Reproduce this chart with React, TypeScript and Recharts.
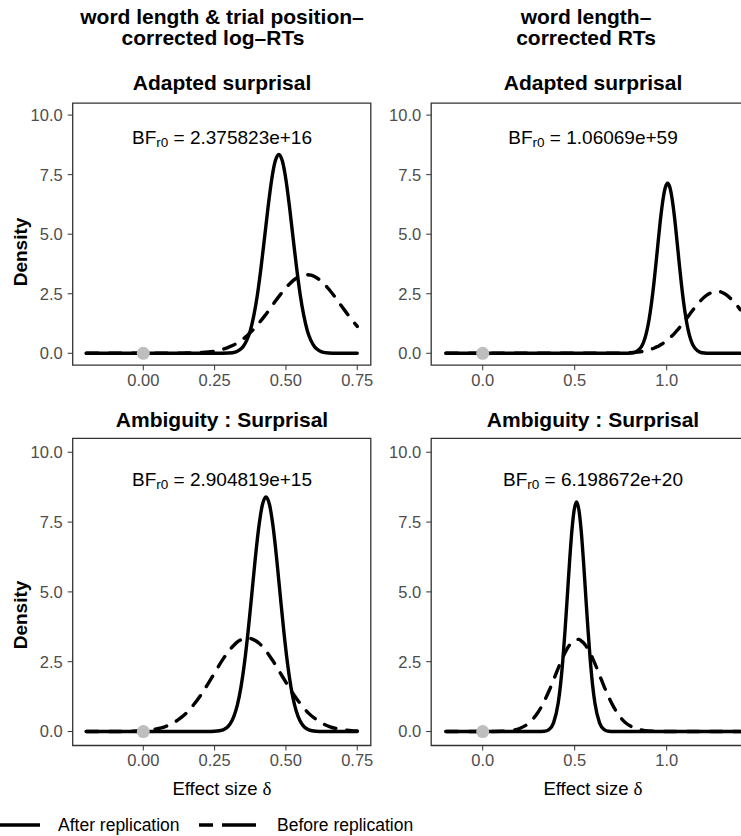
import { ComposedChart, Line, Scatter, XAxis, YAxis, ReferenceArea } from 'recharts';

// densities, one grid of effect sizes per panel
const adaptedLogX = [-0.2, -0.1, 0, 0.05, 0.1, 0.15, 0.2, 0.25, 0.3, 0.325, 0.3375, 0.35, 0.3625, 0.375, 0.3875, 0.4, 0.4125, 0.425, 0.4375, 0.45, 0.4625, 0.475, 0.4875, 0.5, 0.5125, 0.525, 0.5375, 0.55, 0.5625, 0.575, 0.5875, 0.6, 0.6125, 0.625, 0.65, 0.675, 0.7, 0.725, 0.75];
const adaptedLogAfter = [0, 0, 0, 0, 0, 0, 0, 0, 0.01, 0.06, 0.14, 0.28, 0.54, 0.95, 1.59, 2.46, 3.58, 4.85, 6.15, 7.29, 8.07, 8.35, 8.07, 7.29, 6.15, 4.85, 3.58, 2.46, 1.59, 0.95, 0.54, 0.28, 0.14, 0.06, 0.01, 0, 0, 0, 0];
const adaptedLogBefore = [0, 0, 0, 0, 0, 0.01, 0.03, 0.09, 0.26, 0.4, 0.5, 0.6, 0.73, 0.87, 1.02, 1.19, 1.37, 1.56, 1.76, 1.97, 2.18, 2.38, 2.57, 2.75, 2.91, 3.05, 3.16, 3.24, 3.29, 3.3, 3.28, 3.22, 3.13, 3.01, 2.7, 2.31, 1.9, 1.5, 1.13];

const adaptedRawX = [-0.2, 0, 0.2, 0.4, 0.6, 0.7, 0.75, 0.78, 0.805, 0.83, 0.8425, 0.855, 0.8675, 0.88, 0.8925, 0.905, 0.9175, 0.93, 0.9425, 0.955, 0.9675, 0.98, 0.9925, 1.005, 1.0175, 1.03, 1.0425, 1.055, 1.0675, 1.08, 1.0925, 1.105, 1.1175, 1.13, 1.1425, 1.155, 1.18, 1.205, 1.23, 1.255, 1.28, 1.305, 1.33, 1.355, 1.38, 1.4];
const adaptedRawAfter = [0, 0, 0, 0, 0, 0, 0, 0, 0.01, 0.05, 0.11, 0.2, 0.35, 0.59, 0.95, 1.45, 2.11, 2.91, 3.83, 4.79, 5.71, 6.46, 6.96, 7.14, 6.96, 6.46, 5.71, 4.79, 3.83, 2.91, 2.11, 1.45, 0.95, 0.59, 0.35, 0.2, 0.05, 0.01, 0, 0, 0, 0, 0, 0, 0, 0];
const adaptedRawBefore = [0, 0, 0, 0, 0, 0, 0.01, 0.02, 0.03, 0.04, 0.05, 0.06, 0.08, 0.1, 0.12, 0.15, 0.18, 0.21, 0.26, 0.3, 0.36, 0.42, 0.49, 0.57, 0.65, 0.74, 0.84, 0.95, 1.06, 1.18, 1.31, 1.43, 1.56, 1.69, 1.82, 1.94, 2.17, 2.36, 2.5, 2.58, 2.6, 2.54, 2.42, 2.24, 2.03, 1.83];

const ambigLogX = [-0.2, -0.1, -0.05, 0, 0.025, 0.05, 0.075, 0.1, 0.125, 0.15, 0.175, 0.2, 0.225, 0.25, 0.28, 0.305, 0.3175, 0.33, 0.3425, 0.355, 0.3675, 0.38, 0.3925, 0.405, 0.4175, 0.43, 0.4425, 0.455, 0.4675, 0.48, 0.4925, 0.505, 0.5175, 0.53, 0.5425, 0.555, 0.58, 0.605, 0.63, 0.655, 0.68, 0.705, 0.73, 0.75];
const ambigLogAfter = [0, 0, 0, 0, 0, 0, 0, 0, 0, 0, 0, 0, 0, 0.01, 0.06, 0.28, 0.54, 0.96, 1.6, 2.48, 3.6, 4.88, 6.19, 7.33, 8.12, 8.4, 8.12, 7.33, 6.19, 4.88, 3.6, 2.48, 1.6, 0.96, 0.54, 0.28, 0.06, 0.01, 0, 0, 0, 0, 0, 0];
const ambigLogBefore = [0, 0, 0.01, 0.03, 0.06, 0.1, 0.17, 0.28, 0.44, 0.65, 0.94, 1.28, 1.68, 2.1, 2.6, 2.95, 3.09, 3.21, 3.29, 3.34, 3.35, 3.32, 3.26, 3.17, 3.04, 2.89, 2.71, 2.52, 2.31, 2.1, 1.89, 1.68, 1.47, 1.28, 1.1, 0.94, 0.65, 0.44, 0.28, 0.17, 0.1, 0.06, 0.03, 0.02];

const ambigRawX = [-0.2, 0, 0.1, 0.15, 0.2, 0.25, 0.3, 0.335, 0.36, 0.385, 0.41, 0.4225, 0.435, 0.4475, 0.46, 0.4725, 0.485, 0.4975, 0.51, 0.5225, 0.535, 0.5475, 0.56, 0.5725, 0.585, 0.5975, 0.61, 0.635, 0.66, 0.685, 0.71, 0.735, 0.76, 0.785, 0.81, 0.86, 0.9, 1.0, 1.2, 1.4];
const ambigRawAfter = [0, 0, 0, 0, 0, 0, 0, 0.01, 0.07, 0.31, 1.01, 1.65, 2.52, 3.62, 4.86, 6.12, 7.21, 7.95, 8.22, 7.95, 7.21, 6.12, 4.86, 3.62, 2.52, 1.65, 1.01, 0.31, 0.07, 0.01, 0, 0, 0, 0, 0, 0, 0, 0, 0, 0];
const ambigRawBefore = [0, 0, 0.01, 0.03, 0.11, 0.3, 0.68, 1.09, 1.45, 1.85, 2.26, 2.46, 2.65, 2.82, 2.98, 3.1, 3.2, 3.27, 3.3, 3.3, 3.25, 3.18, 3.08, 2.95, 2.79, 2.62, 2.43, 2.02, 1.61, 1.23, 0.9, 0.63, 0.42, 0.27, 0.17, 0.06, 0.02, 0, 0, 0];

const logTicks = [0, 0.25, 0.5, 0.75];
const rawTicks = [0, 0.5, 1.0];
const densityTicks = [0, 2.5, 5, 7.5, 10];
const priorPoint = [{ x: 0, y: 0 }];

const columnTitles = [['word length & trial position–', 'corrected log–RTs'], ['word length–', 'corrected RTs']];
const rowTitles = ['Adapted surprisal', 'Ambiguity : Surprisal'];
const bayesFactors = [['2.375823e+16', '1.06069e+59'], ['2.904819e+15', '6.198672e+20']];

const FONT = '"Liberation Sans", Arial, Helvetica, sans-serif';
const INK = '#333333';

interface PanelProps {
  xs: number[];
  after: number[];
  before: number[];
  xDomain: [number, number];
  xTicks: number[];
  digits: number;
  left: number;
  top: number;
  height: number;
  yAxisWidth: number;
  marginRight: number;
  marginTop: number;
  marginBottom: number;
}

const DensityPanel = (p: PanelProps) => {
  const rows = p.xs.map((x, i) => ({ x, after: p.after[i], before: p.before[i] }));
  return (
    <div style={{ position: 'absolute', left: p.left, top: p.top }}>
      <ComposedChart
        width={380}
        height={p.height}
        data={rows}
        margin={{ top: p.marginTop, right: p.marginRight, bottom: p.marginBottom, left: 0 }}
      >
        <XAxis
          type="number"
          dataKey="x"
          domain={p.xDomain}
          ticks={p.xTicks}
          allowDataOverflow
          height={30}
          axisLine={false}
          tickSize={5}
          tickMargin={4}
          tickLine={{ stroke: INK }}
          tick={{ fill: '#4D4D4D', fontSize: 16.5 }}
          tickFormatter={(v: number) => v.toFixed(p.digits)}
        />
        <YAxis
          type="number"
          domain={[-0.5, 10.5]}
          ticks={densityTicks}
          allowDataOverflow
          width={p.yAxisWidth}
          axisLine={false}
          tickSize={5}
          tickMargin={5}
          tickLine={{ stroke: INK }}
          tick={{ fill: '#4D4D4D', fontSize: 16.5 }}
          tickFormatter={(v: number) => v.toFixed(1)}
        />
        <ReferenceArea
          x1={p.xDomain[0]}
          x2={p.xDomain[1]}
          y1={-0.5}
          y2={10.5}
          fill="none"
          stroke={INK}
          strokeWidth={1.3}
        />
        <Line
          type="monotone"
          dataKey="before"
          stroke="#000"
          strokeWidth={3.4}
          strokeDasharray="12 11"
          strokeLinecap="round"
          dot={false}
          isAnimationActive={false}
        />
        <Line
          type="monotone"
          dataKey="after"
          stroke="#000"
          strokeWidth={3.4}
          strokeLinecap="round"
          strokeLinejoin="round"
          dot={false}
          isAnimationActive={false}
        />
        <Scatter
          data={priorPoint}
          dataKey="y"
          isAnimationActive={false}
          shape={(s: any) => <circle cx={s.cx} cy={s.cy} r={6.5} fill="#BEBEBE" />}
        />
      </ComposedChart>
    </div>
  );
};

const BFText = ({ x, y, value }: { x: number; y: number; value: string }) => (
  <text x={x} y={y} textAnchor="middle" dominantBaseline="central" fontSize={19} fill="#000">
    <tspan>BF</tspan>
    <tspan fontSize={13.5} dy={5}>r0</tspan>
    <tspan dy={-5}> = {value}</tspan>
  </text>
);

export default function App() {
  const colX = [222, 593];
  const titleX = [[222, 213], [586, 586]];
  return (
    <div
      style={{
        position: 'absolute',
        left: 0,
        top: 0,
        width: 741,
        height: 836,
        overflow: 'hidden',
        background: '#fff',
        fontFamily: FONT,
      }}
    >
      <DensityPanel
        xs={adaptedLogX} after={adaptedLogAfter} before={adaptedLogBefore}
        xDomain={[-0.2475, 0.7975]} xTicks={logTicks} digits={2}
        left={0} top={100} height={300} yAxisWidth={72.7} marginRight={9.2} marginTop={3.2} marginBottom={4.8}
      />
      <DensityPanel
        xs={adaptedRawX} after={adaptedRawAfter} before={adaptedRawBefore}
        xDomain={[-0.28, 1.48]} xTicks={rawTicks} digits={1}
        left={380} top={100} height={300} yAxisWidth={51.2} marginRight={5} marginTop={3.2} marginBottom={4.8}
      />
      <DensityPanel
        xs={ambigLogX} after={ambigLogAfter} before={ambigLogBefore}
        xDomain={[-0.2475, 0.7975]} xTicks={logTicks} digits={2}
        left={0} top={435} height={345} yAxisWidth={72.7} marginRight={9.2} marginTop={3.3} marginBottom={4.5}
      />
      <DensityPanel
        xs={ambigRawX} after={ambigRawAfter} before={ambigRawBefore}
        xDomain={[-0.28, 1.48]} xTicks={rawTicks} digits={1}
        left={380} top={435} height={345} yAxisWidth={51.2} marginRight={5} marginTop={3.3} marginBottom={4.5}
      />

      <svg width={741} height={836} style={{ position: 'absolute', left: 0, top: 0, pointerEvents: 'none' }}>
        {columnTitles.map((lines, c) =>
          lines.map((t, i) => (
            <text key={`ct${c}${i}`} x={titleX[c][i]} y={16 + i * 21.5} textAnchor="middle" dominantBaseline="central" fontSize={21} fontWeight="bold" fill="#000">
              {t}
            </text>
          ))
        )}
        {colX.map((x, c) => (
          <g key={`row${c}`}>
            <text x={x} y={82} textAnchor="middle" dominantBaseline="central" fontSize={21} fontWeight="bold" fill="#000">{rowTitles[0]}</text>
            <text x={x} y={419} textAnchor="middle" dominantBaseline="central" fontSize={21} fontWeight="bold" fill="#000">{rowTitles[1]}</text>
            <BFText x={x} y={136.7} value={bayesFactors[0][c]} />
            <BFText x={x} y={479} value={bayesFactors[1][c]} />
            <text x={x} y={788} textAnchor="middle" dominantBaseline="central" fontSize={18.5} fill="#000">
              Effect size <tspan fontFamily='"Liberation Serif", "DejaVu Serif", serif' fontSize={19}>δ</tspan>
            </text>
          </g>
        ))}
        <text transform="translate(20.5,252) rotate(-90)" textAnchor="middle" dominantBaseline="central" fontSize={19} fontWeight="bold" fill="#000">Density</text>
        <text transform="translate(20.5,615) rotate(-90)" textAnchor="middle" dominantBaseline="central" fontSize={19} fontWeight="bold" fill="#000">Density</text>

        <line x1={0} y1={825} x2={40} y2={825} stroke="#000" strokeWidth={3.4} />
        <text x={58} y={825} dominantBaseline="central" fontSize={17.5} fill="#000">After replication</text>
        <line x1={199} y1={825} x2={256} y2={825} stroke="#000" strokeWidth={3.4} strokeDasharray="14 9 34" />
        <text x={277} y={825} dominantBaseline="central" fontSize={17.5} fill="#000">Before replication</text>
      </svg>
    </div>
  );
}
